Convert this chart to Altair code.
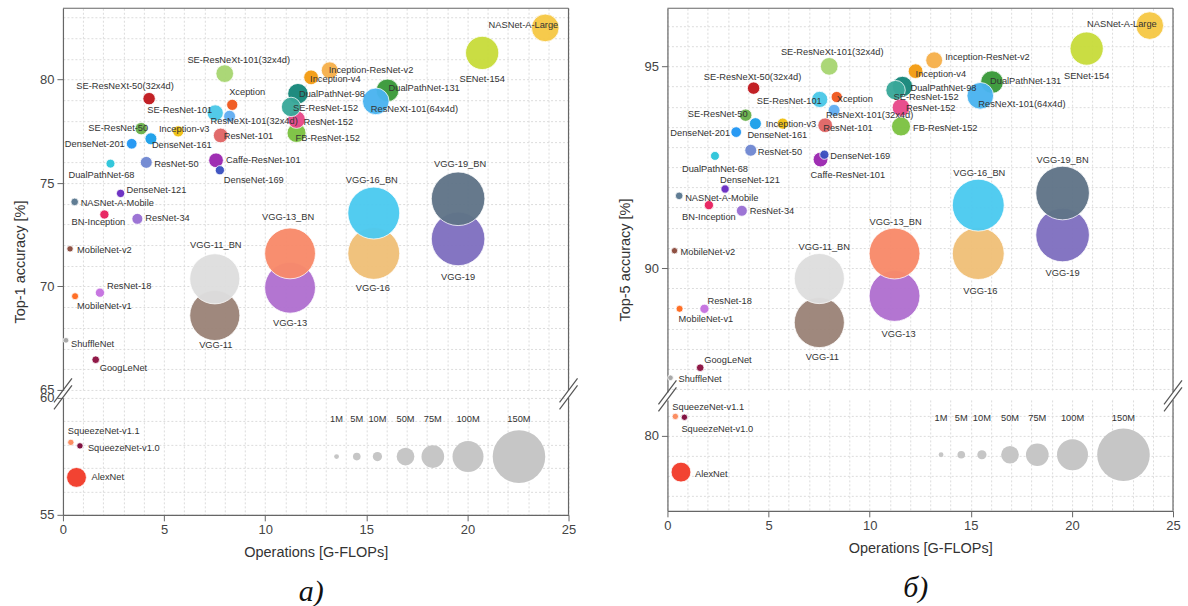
import altair as alt
import pandas as pd

# ---- network data -------------------------------------------------------
NAMES = [
    "AlexNet", "SqueezeNet-v1.0", "SqueezeNet-v1.1", "ShuffleNet", "GoogLeNet",
    "MobileNet-v1", "MobileNet-v2", "ResNet-18", "NASNet-A-Mobile", "BN-Inception",
    "DenseNet-121", "ResNet-34", "DualPathNet-68", "DenseNet-201", "SE-ResNet-50",
    "DenseNet-161", "ResNet-50", "SE-ResNeXt-50(32x4d)", "Inception-v3",
    "ResNeXt-101(32x4d)", "SE-ResNet-101", "ResNet-101", "Caffe-ResNet-101",
    "DenseNet-169", "Xception", "SE-ResNeXt-101(32x4d)", "FB-ResNet-152",
    "ResNet-152", "DualPathNet-98", "SE-ResNet-152", "Inception-ResNet-v2",
    "Inception-v4", "DualPathNet-131", "ResNeXt-101(64x4d)", "SENet-154",
    "NASNet-A-Large", "VGG-11", "VGG-11_BN", "VGG-13", "VGG-13_BN", "VGG-16",
    "VGG-16_BN", "VGG-19", "VGG-19_BN",
]
GFLOPS = [
    0.67, 0.84, 0.39, 0.15, 1.62,
    0.60, 0.35, 1.83, 0.58, 2.05,
    2.85, 3.68, 2.35, 3.40, 3.87,
    4.35, 4.12, 4.26, 5.70,
    8.24, 7.53, 7.80, 7.57,
    7.76, 8.37, 8.00, 11.55,
    11.55, 11.62, 11.28, 13.19,
    12.27, 16.05, 15.47, 20.73,
    23.85, 7.51, 7.51, 11.23, 11.23, 15.37,
    15.37, 19.54, 19.54,
]
TOP1 = [
    56.60, 57.95, 58.10, 67.40, 66.46,
    69.53, 71.82, 69.70, 74.09, 73.48,
    74.50, 73.27, 75.94, 76.90, 77.63,
    77.14, 76.00, 79.08, 77.50,
    78.23, 78.39, 77.30, 76.10,
    75.62, 78.78, 80.29, 77.42,
    78.07, 79.32, 78.68, 80.45,
    80.11, 79.48, 78.95, 81.29,
    82.50, 68.60, 70.37, 69.94, 71.60, 71.60,
    73.55, 72.30, 74.24,
]
TOP5 = [
    79.10, 80.46, 80.48, 87.28, 87.53,
    88.99, 90.43, 88.99, 91.79, 91.56,
    91.96, 91.42, 92.78, 93.37, 93.79,
    93.58, 92.92, 94.46, 93.58,
    93.91, 94.18, 93.54, 92.69,
    92.81, 94.24, 95.00, 93.51,
    93.98, 94.50, 94.41, 95.15,
    94.88, 94.61, 94.27, 95.44,
    96.01, 88.65, 89.74, 89.31, 90.36, 90.36,
    91.56, 90.82, 91.86,
]
PARAMS_M = [
    60, 3, 3, 2, 5,
    4, 3, 10, 5, 10,
    7, 16, 9, 15, 22,
    20, 20, 22, 17,
    20, 41, 33, 33,
    10, 17, 50, 56,
    50, 63, 58, 45,
    33, 75, 86, 104,
    89, 143, 143, 145, 145, 148,
    148, 153, 153,
]
COLORS = [
    "#f23c2a", "#7d0a3c", "#fb8a5c", "#a6a6a6", "#8c1040",
    "#ff6a1e", "#8b4a3c", "#c572e0", "#5a7890", "#e8215f",
    "#6a2cc2", "#9a70d4", "#2cc5da", "#2196f3", "#6ab04c",
    "#1ca0ea", "#7088d2", "#c0181e", "#f0c010",
    "#62aef2", "#4cc8e8", "#e06666", "#9c27b0",
    "#3a50c0", "#f0581e", "#a8d672", "#7cc242",
    "#e8488a", "#16877a", "#3aa89a", "#f6b04c",
    "#f39c12", "#3a9a3a", "#4ab4f0", "#c8dc3c",
    "#f6c845", "#9c8478", "#dedede", "#b070d0", "#f88a6a", "#f0c078",
    "#4ccaf0", "#8070c0", "#607488",
]

# ---- bubble-size key ----------------------------------------------------
LEGEND_PARAMS = [1, 5, 10, 50, 75, 100, 150]
LEGEND_TEXT = ["1M", "5M", "10M", "50M", "75M", "100M", "150M"]
LEGEND_GFLOPS = [13.53, 14.53, 15.55, 16.94, 18.29, 20.03, 22.55]
LEGEND_AREA = [23, 58, 85, 314, 515, 962, 2771]

# ---- label placement: (dx px, dy px, text alignment) --------------------
LABELS_A = {
    "SE-ResNeXt-101(32x4d)": (14, -14, "center"), "SE-ResNeXt-50(32x4d)": (-24, -13, "center"),
    "Xception": (15, -13, "center"), "SE-ResNet-101": (-3, -3, "right"),
    "ResNeXt-101(32x4d)": (-19, 5, "left"), "SE-ResNet-50": (7, -1, "right"),
    "Inception-v3": (6, -2, "center"), "DenseNet-201": (-7, 0, "right"),
    "DenseNet-161": (1, 6, "left"), "ResNet-101": (3, 1, "left"),
    "Caffe-ResNet-101": (10, 0, "left"), "DenseNet-169": (4, 10, "left"),
    "ResNet-50": (8, 2, "left"), "DualPathNet-68": (-9, 11, "center"),
    "DenseNet-121": (6, -3, "left"), "NASNet-A-Mobile": (6, 1, "left"),
    "BN-Inception": (-6, 8, "center"), "ResNet-34": (8, -1, "left"),
    "MobileNet-v2": (7, 1, "left"), "ResNet-18": (7, -7, "left"),
    "MobileNet-v1": (2, 10, "left"), "ShuffleNet": (5, 4, "left"),
    "GoogLeNet": (4, 8, "left"), "SqueezeNet-v1.1": (-3, -11, "left"),
    "SqueezeNet-v1.0": (8, 2, "left"), "AlexNet": (15, 0, "left"),
    "NASNet-A-Large": (13, -3, "right"), "SENet-154": (0, 26, "center"),
    "Inception-ResNet-v2": (-1, 0, "left"), "Inception-v4": (-1, 2, "left"),
    "DualPathNet-98": (1, 0, "left"), "DualPathNet-131": (1, -2, "left"),
    "ResNeXt-101(64x4d)": (-5, 8, "left"), "SE-ResNet-152": (2, 1, "left"),
    "ResNet-152": (7, 2, "left"), "FB-ResNet-152": (-1, 5, "left"),
    "VGG-19_BN": (2, -35, "center"), "VGG-19": (0, 38, "center"),
    "VGG-16_BN": (-2, -33, "center"), "VGG-16": (-1, 35, "center"),
    "VGG-13_BN": (-2, -36, "center"), "VGG-13": (0, 35, "center"),
    "VGG-11_BN": (1, -34, "center"), "VGG-11": (1, 30, "center"),
}
LABELS_B = {
    "SE-ResNeXt-101(32x4d)": (3, -14, "center"), "SE-ResNeXt-50(32x4d)": (-1, -11, "center"),
    "SE-ResNet-101": (2, 2, "right"), "Xception": (0, 2, "left"),
    "ResNeXt-101(32x4d)": (-8, 5, "left"), "SE-ResNet-50": (2, -1, "right"),
    "DenseNet-201": (-6, 1, "right"), "DenseNet-161": (-8, 11, "left"),
    "Inception-v3": (-17, 0, "left"), "ResNet-101": (-2, 3, "left"),
    "ResNet-50": (7, 2, "left"), "DenseNet-169": (6, 1, "left"),
    "Caffe-ResNet-101": (-10, 15, "left"), "DualPathNet-68": (0, 13, "center"),
    "DenseNet-121": (-5, -9, "left"), "NASNet-A-Mobile": (6, 2, "left"),
    "BN-Inception": (0, 12, "center"), "ResNet-34": (8, 0, "left"),
    "MobileNet-v2": (6, 1, "left"), "ResNet-18": (3, -8, "left"),
    "MobileNet-v1": (-1, 10, "left"), "GoogLeNet": (4, -8, "left"),
    "ShuffleNet": (8, 1, "left"), "SqueezeNet-v1.1": (-3, -9, "left"),
    "SqueezeNet-v1.0": (-3, 12, "left"), "AlexNet": (14, 2, "left"),
    "NASNet-A-Large": (7, -2, "right"), "SENet-154": (0, 27, "center"),
    "Inception-ResNet-v2": (11, -3, "left"), "Inception-v4": (0, 3, "left"),
    "DualPathNet-98": (8, 1, "left"), "SE-ResNet-152": (-2, 7, "left"),
    "ResNet-152": (5, 1, "left"), "FB-ResNet-152": (12, 2, "left"),
    "DualPathNet-131": (-2, -1, "left"), "ResNeXt-101(64x4d)": (-2, 8, "left"),
    "VGG-19_BN": (0, -33, "center"), "VGG-19": (0, 38, "center"),
    "VGG-16_BN": (1, -32, "center"), "VGG-16": (2, 37, "center"),
    "VGG-13_BN": (1, -32, "center"), "VGG-13": (4, 38, "center"),
    "VGG-11_BN": (5, -32, "center"), "VGG-11": (3, 34, "center"),
}

# ---- layout / style -----------------------------------------------------
PLOT_W = 506
X_MAX = 25
X_GRID = list(range(0, 26))
GAP = 8
FONT = "Liberation Sans"
TEXT = "#333333"
FRAME = "#666666"
LABEL_SIZE = 9.3

FIVE_LABEL = "abs(datum.value % 5) < 0.001 ? format(datum.value, 'd') : ''"
FIVE_TICK = {"condition": {"test": "abs(datum.value % 5) > 0.001", "value": 0}, "value": 1}


def halves(a, b):
    return [a + 0.5 * i for i in range(int(round((b - a) * 2)) + 1)]


PANELS = [
    dict(metric="top1", ytitle="Top-1 accuracy [%]", caption="а)", split=62, labels=LABELS_A,
         top=dict(domain=[65, 83.45], height=382, grid=list(range(65, 84))),
         bottom=dict(domain=[55, 60], height=117, grid=list(range(55, 61))),
         legend_y=57.49, legend_label_y=59.09),
    dict(metric="top5", ytitle="Top-5 accuracy [%]", caption="б)", split=84, labels=LABELS_B,
         top=dict(domain=[86.93, 96.44], height=384, grid=halves(87, 96)),
         bottom=dict(domain=[78.14, 80.89], height=111, grid=halves(78.5, 80.5)),
         legend_y=79.53, legend_label_y=80.44),
]

base = pd.DataFrame({"name": NAMES, "gflops": GFLOPS, "top1": TOP1, "top5": TOP5,
                     "params": PARAMS_M})
size_scale = alt.Scale(type="linear", domain=LEGEND_PARAMS, range=LEGEND_AREA)
color_scale = alt.Scale(domain=NAMES, range=COLORS)


def build_segment(seg_df, seg, cfg, is_bottom, title_y):
    lo, hi = seg["domain"]
    h = seg["height"]
    kx = PLOT_W / X_MAX
    ky = h / (hi - lo)
    xs = alt.Scale(domain=[0, X_MAX], nice=False, zero=False)
    ys = alt.Scale(domain=[lo, hi], nice=False, zero=False)

    if is_bottom:
        xaxis = alt.Axis(values=X_GRID, labelExpr=FIVE_LABEL, tickOpacity=FIVE_TICK,
                         labelFlush=False, labelOverlap=False, title="Operations [G-FLOPs]",
                         titlePadding=9)
        yaxis = alt.Axis(values=seg["grid"], labelExpr=FIVE_LABEL, tickOpacity=FIVE_TICK,
                         labelFlush=False, labelOverlap=False, title=None)
    else:
        xaxis = alt.Axis(values=X_GRID, labels=False, ticks=False, domain=False, title=None)
        yaxis = alt.Axis(values=seg["grid"], labelExpr=FIVE_LABEL, tickOpacity=FIVE_TICK,
                         labelFlush=False, labelOverlap=False, title=cfg["ytitle"],
                         titleY=title_y, titlePadding=12)

    def X(f):
        return alt.X(f, type="quantitative", scale=xs, axis=xaxis)

    def Y(f):
        return alt.Y(f, type="quantitative", scale=ys, axis=yaxis)

    layers = []

    # frame: right border (and top border on the upper segment)
    frame_rows = [dict(x=X_MAX, x2=X_MAX, y=lo, y2=hi)]
    if not is_bottom:
        frame_rows.append(dict(x=0, x2=X_MAX, y=hi, y2=hi))
    layers.append(alt.Chart(pd.DataFrame(frame_rows)).mark_rule(color=FRAME, strokeWidth=1.2)
                  .encode(x=X("x"), x2="x2", y=Y("y"), y2="y2"))

    pts = seg_df.copy()
    pts["lx"] = pts["gflops"] + pts["dx"] / kx
    pts["ly"] = pts["acc"] - pts["dy"] / ky

    layers.append(alt.Chart(pts).mark_circle(opacity=0.96, stroke="white", strokeWidth=0.8)
                  .encode(x=X("gflops"), y=Y("acc"),
                          size=alt.Size("params:Q", scale=size_scale, legend=None),
                          color=alt.Color("name:N", scale=color_scale, legend=None)))

    if is_bottom:
        leg = pd.DataFrame({"params": LEGEND_PARAMS, "text": LEGEND_TEXT,
                            "gflops": LEGEND_GFLOPS})
        leg["y"] = cfg["legend_y"]
        leg["ly"] = cfg["legend_label_y"]
        layers.append(alt.Chart(leg).mark_circle(color="#c6c6c6", opacity=1)
                      .encode(x=X("gflops"), y=Y("y"),
                              size=alt.Size("params:Q", scale=size_scale, legend=None)))
        layers.append(alt.Chart(leg).mark_text(font=FONT, fontSize=LABEL_SIZE, color=TEXT)
                      .encode(x=X("gflops"), y=Y("ly"), text="text:N"))

        # axis-break marks "//" on the left axis and on the right border
        rows = []
        for x0 in (0, X_MAX):
            for yc in (-7.5, -0.5):
                rows.append(dict(x=x0 - 9 / kx, x2=x0 + 9 / kx,
                                 y=hi - (yc + 12) / ky, y2=hi - (yc - 12) / ky))
        layers.append(alt.Chart(pd.DataFrame(rows)).mark_rule(color="#555555", strokeWidth=1.2)
                      .encode(x=X("x"), x2="x2", y=Y("y"), y2="y2"))

    for align in ("left", "center", "right"):
        sub = pts[pts["align"] == align]
        if len(sub):
            layers.append(alt.Chart(sub).mark_text(align=align, baseline="middle", font=FONT,
                                                   fontSize=LABEL_SIZE, color=TEXT)
                          .encode(x=X("lx"), y=Y("ly"), text="name:N"))

    return alt.layer(*layers).properties(width=PLOT_W, height=h)


def build_panel(cfg):
    df = base.copy()
    df["acc"] = df[cfg["metric"]]
    df["dx"] = [cfg["labels"][n][0] for n in df["name"]]
    df["dy"] = [cfg["labels"][n][1] for n in df["name"]]
    df["align"] = [cfg["labels"][n][2] for n in df["name"]]
    title_y = (cfg["top"]["height"] + GAP + cfg["bottom"]["height"]) / 2
    top = build_segment(df[df["acc"] >= cfg["split"]], cfg["top"], cfg, False, title_y)
    bottom = build_segment(df[df["acc"] < cfg["split"]], cfg["bottom"], cfg, True, title_y)
    caption = alt.TitleParams(text=cfg["caption"], orient="bottom", anchor="middle",
                              font="Liberation Serif", fontStyle="italic",
                              fontWeight="normal", fontSize=30, color="#111111", offset=18, dx=16)
    return (alt.vconcat(top, bottom, spacing=GAP, bounds="flush")
            .resolve_scale(y="independent")
            .properties(title=caption))


chart = (
    alt.hconcat(*[build_panel(p) for p in PANELS], spacing=38)
    .resolve_scale(y="independent")
    .properties(padding={"left": 12, "top": 7, "right": 5, "bottom": 2}, background="white")
    .configure_view(stroke=None)
    .configure_axis(labelFont=FONT, titleFont=FONT, labelFontSize=13, titleFontSize=14.5,
                    titleFontWeight="normal", labelColor="#444444", titleColor=TEXT,
                    domainColor=FRAME, domainWidth=1.2, tickColor=FRAME, tickSize=6,
                    labelPadding=3, grid=True, gridColor="#dcdcdc", gridDash=[2, 2])
)

chart.save("out.html", embed_options={"renderer": "svg", "actions": False})
